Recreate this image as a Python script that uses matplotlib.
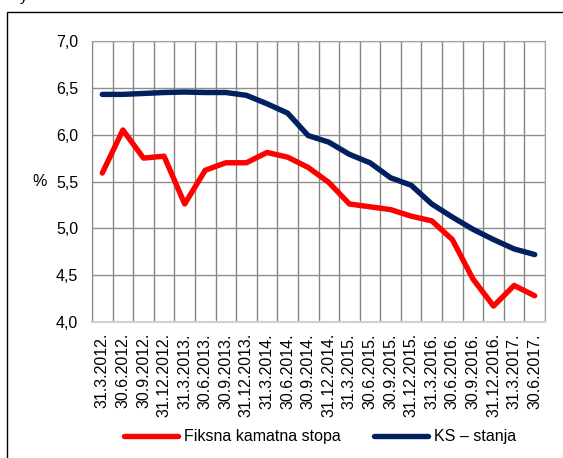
import matplotlib.pyplot as plt
from matplotlib.patches import Rectangle
from matplotlib.ticker import FixedLocator, FuncFormatter

# quarter-end dates and the two rate series (%)
dates = ['31.3.2012.', '30.6.2012.', '30.9.2012.', '31.12.2012.',
         '31.3.2013.', '30.6.2013.', '30.9.2013.', '31.12.2013.',
         '31.3.2014.', '30.6.2014.', '30.9.2014.', '31.12.2014.',
         '31.3.2015.', '30.6.2015.', '30.9.2015.', '31.12.2015.',
         '31.3.2016.', '30.6.2016.', '30.9.2016.', '31.12.2016.',
         '31.3.2017.', '30.6.2017.']
fiksna = [5.59, 6.05, 5.75, 5.77, 5.26, 5.62, 5.70, 5.70, 5.81, 5.76, 5.65,
          5.49, 5.26, 5.23, 5.20, 5.13, 5.08, 4.88, 4.46, 4.17, 4.39, 4.28]
ks_stanja = [6.43, 6.43, 6.44, 6.45, 6.455, 6.45, 6.45, 6.42, 6.33, 6.23,
             5.99, 5.92, 5.79, 5.70, 5.54, 5.46, 5.26, 5.12, 4.99, 4.88,
             4.78, 4.72]

plt.rcParams['font.family'] = ['Liberation Sans', 'DejaVu Sans']
plt.rcParams['font.size'] = 11.5

fig = plt.figure(figsize=(5.63, 4.58), dpi=100)
ax = fig.add_axes([92 / 563, 1 - 322 / 458, 453 / 563, 281 / 458])

x = list(range(len(dates)))
ax.plot(x, fiksna, color='#FF0000', lw=3.9, solid_capstyle='round',
        solid_joinstyle='round', label='Fiksna kamatna stopa')
ax.plot(x, ks_stanja, color='#002060', lw=3.9, solid_capstyle='round',
        solid_joinstyle='round', label='KS – stanja')

ax.set_xlim(-0.5, len(dates) - 0.5)
ax.set_ylim(4.0, 7.0)
ax.set_yticks([4.0, 4.5, 5.0, 5.5, 6.0, 6.5, 7.0])
ax.yaxis.set_major_formatter(FuncFormatter(lambda v, p: f'{v:.1f}'.replace('.', ',')))
ax.set_xticks(x)
ax.set_xticklabels(dates, rotation=90)
ax.xaxis.set_minor_locator(FixedLocator([i + 0.5 for i in range(-1, len(dates))]))
ax.tick_params(axis='both', which='both', length=0)
ax.tick_params(axis='y', pad=10)
ax.tick_params(axis='x', pad=8)

ax.grid(axis='y', which='major', color='#8E8E8E', lw=1)
ax.grid(axis='x', which='minor', color='#858585', lw=1)
ax.set_axisbelow(True)
for side in ['top', 'right']:
    ax.spines[side].set_color('#A0A0A0')
ax.spines['left'].set_color('#858585')
ax.spines['bottom'].set_color('#D0D0D0')
ax.spines['bottom'].set_linewidth(1.5)

ax.set_ylabel('%', rotation=0, labelpad=12, va='center')

fig.legend(loc='center', bbox_to_anchor=(320 / 563, 1 - 437 / 458), ncol=2,
           frameon=False, handlelength=3.4, handletextpad=0.35,
           columnspacing=2.1, fontsize=11.5)

# outer frame and the tail of the heading above it
fig.add_artist(Rectangle((7 / 563, -0.1), 1.0, 1.1 - 12 / 458,
                         transform=fig.transFigure, fill=False,
                         edgecolor='black', lw=1))
fig.text(24 / 563, 1 - 1 / 458, 'y', ha='center', va='baseline', fontsize=11)

fig.savefig('out.png', dpi=100)
